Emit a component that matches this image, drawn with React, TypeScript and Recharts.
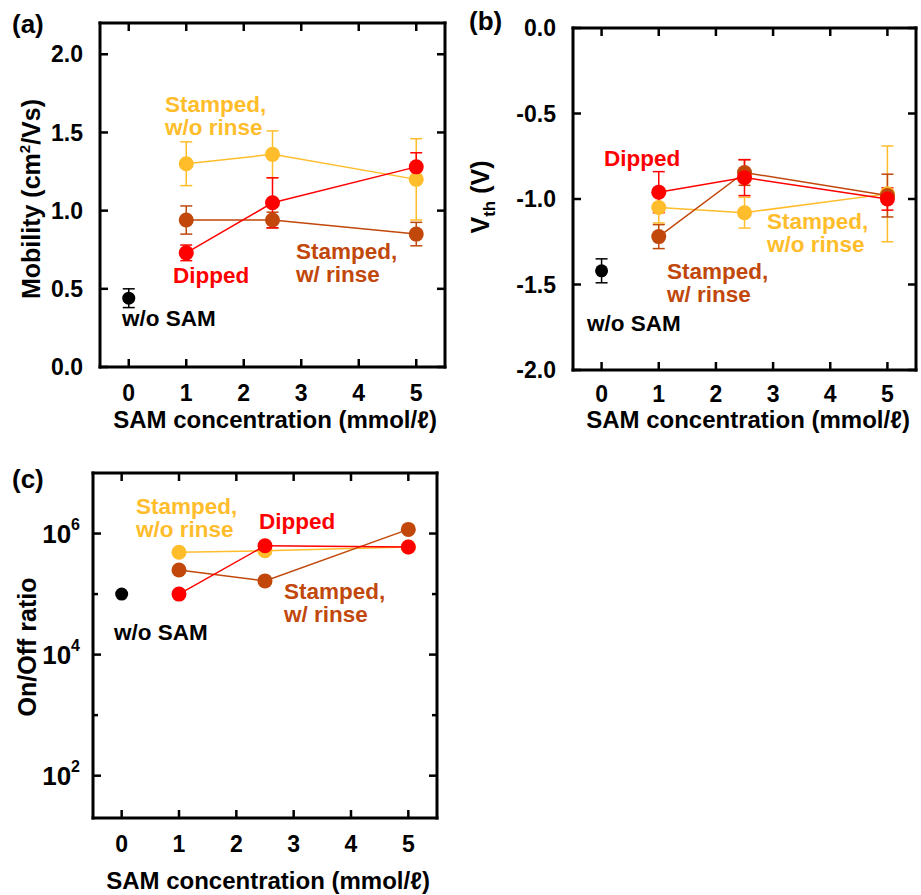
import React from 'react';
import { ScatterChart, Scatter, XAxis, YAxis, ErrorBar } from 'recharts';

// SAM concentrations (mmol/l)
const concentrations = [1, 2.5, 5];
const noSamConcentration = [0];

// (a) mobility (cm2/Vs)
const mobilityNoSam = [0.44];
const mobilityNoSamErr = [0.06];
const mobilityStampedNoRinse = [1.3, 1.36, 1.2];
const mobilityStampedNoRinseErr = [0.14, 0.15, 0.26];
const mobilityStampedRinse = [0.94, 0.94, 0.85];
const mobilityStampedRinseErr = [0.09, 0.05, 0.075];
const mobilityDipped = [0.73, 1.05, 1.28];
const mobilityDippedErr = [0.05, 0.16, 0.09];

// (b) threshold voltage (V)
const vthNoSam = [-1.42];
const vthNoSamErr = [0.07];
const vthStampedNoRinse = [-1.05, -1.08, -0.97];
const vthStampedNoRinseErr = [0.09, 0.09, 0.28];
const vthStampedRinse = [-1.22, -0.845, -0.98];
const vthStampedRinseErr = [0.07, 0.075, 0.125];
const vthDipped = [-0.96, -0.875, -1.0];
const vthDippedErr = [0.12, 0.105, 0.065];

// (c) on/off ratio
const ratioNoSam = [1e5];
const ratioStampedNoRinse = [4.9e5, 5.2e5, 6.0e5];
const ratioStampedRinse = [2.5e5, 1.65e5, 1.17e6];
const ratioDipped = [1.0e5, 6.3e5, 6.0e5];

const xTicks = [0, 1, 2, 3, 4, 5];
const mobilityTicks = [0, 0.5, 1, 1.5, 2];
const vthTicks = [-2, -1.5, -1, -0.5, 0];
const ratioTicks = [1e2, 1e3, 1e4, 1e5, 1e6];

const FONT = "'Liberation Sans', Arial, Helvetica, sans-serif";
const COLORS = {
  noSam: '#000000',
  stampedNoRinse: '#FFBD2B',
  stampedRinse: '#C1470B',
  dipped: '#FF0000',
};

const xDomain: [number, number] = [-0.5, 5.5];
const TICK_FONT = 23;
const TICK_LEN = 8;

type Pt = { x: number; y: number; err?: number };
type Side = 'bottom' | 'top' | 'left' | 'right';

function points(xs: number[], ys: number[], errs?: number[]): Pt[] {
  return xs.map((x, i) => ({ x, y: ys[i], err: errs ? errs[i] : undefined }));
}

const axisLine = { stroke: '#000', strokeWidth: 3, strokeLinecap: 'square' as const };

// inward tick mark plus optional label; the axis sits `margin` px from the label anchor
function frameTick(side: Side, margin: number, fmt?: (v: number) => string, power?: boolean) {
  return function Tick(p: any) {
    const { x, y, payload } = p;
    const v = payload.value as number;
    let len = TICK_LEN;
    let exp = 0;
    if (power) {
      exp = Math.round(Math.log10(v));
      if (exp % 2 !== 0) len = 5;
    }
    let c = { x1: x, y1: y, x2: x, y2: y };
    if (side === 'bottom') c = { x1: x, x2: x, y1: y - margin, y2: y - margin - len };
    else if (side === 'top') c = { x1: x, x2: x, y1: y + margin, y2: y + margin + len };
    else if (side === 'left') c = { x1: x + margin, x2: x + margin + len, y1: y, y2: y };
    else c = { x1: x - margin, x2: x - margin - len, y1: y, y2: y };

    let label = null;
    const font = { fill: '#000', fontWeight: 700, fontFamily: FONT };
    if (power && side === 'left' && exp % 2 === 0) {
      label = (
        <text x={x} y={y + 9.5} textAnchor="end" fontSize={26} {...font}>
          10
          <tspan dy={-13} fontSize={16}>
            {exp}
          </tspan>
        </text>
      );
    } else if (fmt && side === 'bottom') {
      label = (
        <text x={x} y={y + 16.5} textAnchor="middle" fontSize={TICK_FONT} {...font}>
          {fmt(v)}
        </text>
      );
    } else if (fmt && side === 'left') {
      label = (
        <text x={x} y={y + 8.2} textAnchor="end" fontSize={TICK_FONT} {...font}>
          {fmt(v)}
        </text>
      );
    }
    return (
      <g>
        <path d={`M${c.x1},${c.y1}L${c.x2},${c.y2}`} stroke="#000" strokeWidth={2.5} fill="none" />
        {label}
      </g>
    );
  };
}

const fmtInt = (v: number) => String(v);
const fmt1 = (v: number) => v.toFixed(1);

function frameAxes(o: {
  yDomain: [number, number];
  yTicks: number[];
  yWidth: number;
  xHeight: number;
  xMargin: number;
  log?: boolean;
}) {
  const xCommon = {
    type: 'number' as const,
    dataKey: 'x',
    domain: xDomain,
    ticks: xTicks,
    allowDataOverflow: true,
    interval: 0 as const,
    tickSize: 0,
    tickLine: false,
    axisLine,
  };
  const yCommon = {
    type: 'number' as const,
    dataKey: 'y',
    domain: o.yDomain,
    ticks: o.yTicks,
    allowDataOverflow: true,
    scale: o.log ? ('log' as const) : ('linear' as const),
    interval: 0 as const,
    tickSize: 0,
    tickLine: false,
    axisLine,
  };
  const yMargin = o.log ? 13 : 17;
  return [
    <XAxis key="xb" xAxisId="b" orientation="bottom" height={o.xHeight} tickMargin={o.xMargin} tick={frameTick('bottom', o.xMargin, fmtInt)} {...xCommon} />,
    <XAxis key="xt" xAxisId="t" orientation="top" height={1} tickMargin={0} tick={frameTick('top', 0)} {...xCommon} />,
    <YAxis
      key="yl"
      yAxisId="l"
      orientation="left"
      width={o.yWidth}
      tickMargin={yMargin}
      tick={frameTick('left', yMargin, o.log ? undefined : fmt1, o.log)}
      {...yCommon}
    />,
    <YAxis key="yr" yAxisId="r" orientation="right" width={1} tickMargin={0} tick={frameTick('right', 0, undefined, o.log)} {...yCommon} />,
  ];
}

// top and right axes only carry tick marks, but they need a bound series to get a scale
function mirrorSeries(data: Pt[]) {
  return (
    <Scatter
      key="mirror"
      data={data}
      xAxisId="t"
      yAxisId="r"
      fill="none"
      isAnimationActive={false}
      legendType="none"
      shape={() => <g />}
    />
  );
}

function series(data: Pt[], color: string, r: number, withLine: boolean, withErr: boolean, key: string) {
  return (
    <Scatter
      key={key}
      data={data}
      xAxisId="b"
      yAxisId="l"
      fill={color}
      line={withLine ? { stroke: color, strokeWidth: 1.5 } : false}
      lineType="joint"
      isAnimationActive={false}
      shape={(p: any) => <circle cx={p.cx} cy={p.cy} r={r} fill={color} />}
    >
      {withErr && (
        <ErrorBar dataKey="err" direction="y" width={6} stroke={color} strokeWidth={1.5} isAnimationActive={false} />
      )}
    </Scatter>
  );
}

function Note({ left, top, color, lines }: { left: number; top: number; color: string; lines: string[] }) {
  return (
    <div
      style={{
        position: 'absolute',
        left,
        top,
        color,
        fontFamily: FONT,
        fontWeight: 700,
        fontSize: 22.5,
        lineHeight: '23px',
        whiteSpace: 'nowrap',
      }}
    >
      {lines.map((l) => (
        <div key={l}>{l}</div>
      ))}
    </div>
  );
}

function XTitle({ cx, top }: { cx: number; top: number }) {
  return (
    <div
      style={{
        position: 'absolute',
        left: cx - 200,
        width: 400,
        top,
        textAlign: 'center',
        fontFamily: FONT,
        fontWeight: 700,
        fontSize: 24,
        lineHeight: '20px',
        whiteSpace: 'nowrap',
      }}
    >
      SAM concentration (mmol/ℓ)
    </div>
  );
}

function YTitle({ cx, cy, children }: { cx: number; cy: number; children: React.ReactNode }) {
  return (
    <div
      style={{
        position: 'absolute',
        left: cx,
        top: cy,
        transform: 'translate(-50%, -50%) rotate(-90deg)',
        fontFamily: FONT,
        fontWeight: 700,
        fontSize: 25,
        lineHeight: '25px',
        whiteSpace: 'nowrap',
      }}
    >
      {children}
    </div>
  );
}

function PanelLabel({ left, top, text }: { left: number; top: number; text: string }) {
  return (
    <div style={{ position: 'absolute', left, top, fontFamily: FONT, fontWeight: 700, fontSize: 26, lineHeight: '26px' }}>
      {text}
    </div>
  );
}

export default function App() {
  const mobA = points(concentrations, mobilityStampedNoRinse, mobilityStampedNoRinseErr);
  const vthA = points(concentrations, vthStampedNoRinse, vthStampedNoRinseErr);
  const ratioA = points(concentrations, ratioStampedNoRinse);
  return (
    <div style={{ position: 'absolute', left: 0, top: 0, width: 921, height: 895, background: '#fff' }}>
      {/* (a) mobility */}
      <div style={{ position: 'absolute', left: 0, top: 0 }}>
        <ScatterChart width={460} height={450} margin={{ top: 22, right: 14, bottom: 0, left: 0 }}>
          {frameAxes({ yDomain: [0, 2.2], yTicks: mobilityTicks, yWidth: 100, xHeight: 83, xMargin: 17 })}
          {mirrorSeries(mobA)}
          {series(mobA, COLORS.stampedNoRinse, 7.5, true, true, 's1')}
          {series(points(concentrations, mobilityStampedRinse, mobilityStampedRinseErr), COLORS.stampedRinse, 7.5, true, true, 's2')}
          {series(points(concentrations, mobilityDipped, mobilityDippedErr), COLORS.dipped, 7.5, true, true, 's3')}
          {series(points(noSamConcentration, mobilityNoSam, mobilityNoSamErr), COLORS.noSam, 6.5, false, true, 's4')}
        </ScatterChart>
      </div>
      <PanelLabel left={12} top={11} text="(a)" />
      <YTitle cx={33} cy={199}>
        Mobility (cm
        <span style={{ fontSize: 15, position: 'relative', top: -10 }}>2</span>
        /Vs)
      </YTitle>
      <XTitle cx={275} top={410} />
      <Note left={165} top={93} color={COLORS.stampedNoRinse} lines={['Stamped,', 'w/o rinse']} />
      <Note left={173} top={264} color={COLORS.dipped} lines={['Dipped']} />
      <Note left={296} top={240} color={COLORS.stampedRinse} lines={['Stamped,', 'w/ rinse']} />
      <Note left={122} top={307} color={COLORS.noSam} lines={['w/o SAM']} />

      {/* (b) threshold voltage */}
      <div style={{ position: 'absolute', left: 460, top: 0 }}>
        <ScatterChart width={461} height={450} margin={{ top: 27, right: 4, bottom: 0, left: 0 }}>
          {frameAxes({ yDomain: [-2, 0], yTicks: vthTicks, yWidth: 113, xHeight: 80, xMargin: 15 })}
          {mirrorSeries(vthA)}
          {series(vthA, COLORS.stampedNoRinse, 7.5, true, true, 's1')}
          {series(points(concentrations, vthStampedRinse, vthStampedRinseErr), COLORS.stampedRinse, 7.5, true, true, 's2')}
          {series(points(concentrations, vthDipped, vthDippedErr), COLORS.dipped, 7.5, true, true, 's3')}
          {series(points(noSamConcentration, vthNoSam, vthNoSamErr), COLORS.noSam, 6.5, false, true, 's4')}
        </ScatterChart>
      </div>
      <PanelLabel left={469} top={8} text="(b)" />
      <YTitle cx={482} cy={197}>
        V<span style={{ fontSize: 17, position: 'relative', top: 6 }}>th</span> (V)
      </YTitle>
      <XTitle cx={748} top={410} />
      <Note left={604} top={147} color={COLORS.dipped} lines={['Dipped']} />
      <Note left={767} top={210} color={COLORS.stampedNoRinse} lines={['Stamped,', 'w/o rinse']} />
      <Note left={667} top={260} color={COLORS.stampedRinse} lines={['Stamped,', 'w/ rinse']} />
      <Note left={587} top={312} color={COLORS.noSam} lines={['w/o SAM']} />

      {/* (c) on/off ratio */}
      <div style={{ position: 'absolute', left: 0, top: 450 }}>
        <ScatterChart width={460} height={445} margin={{ top: 22, right: 22, bottom: 0, left: 0 }}>
          {frameAxes({ yDomain: [20, 1e7], yTicks: ratioTicks, yWidth: 93, xHeight: 77, xMargin: 17, log: true })}
          {mirrorSeries(ratioA)}
          {series(ratioA, COLORS.stampedNoRinse, 7.5, true, false, 's1')}
          {series(points(concentrations, ratioStampedRinse), COLORS.stampedRinse, 7.5, true, false, 's2')}
          {series(points(concentrations, ratioDipped), COLORS.dipped, 7.5, true, false, 's3')}
          {series(points(noSamConcentration, ratioNoSam), COLORS.noSam, 6.5, false, false, 's4')}
        </ScatterChart>
      </div>
      <PanelLabel left={12} top={466} text="(c)" />
      <YTitle cx={27} cy={647}>
        On/Off ratio
      </YTitle>
      <XTitle cx={268} top={871} />
      <Note left={136} top={495} color={COLORS.stampedNoRinse} lines={['Stamped,', 'w/o rinse']} />
      <Note left={259} top={510} color={COLORS.dipped} lines={['Dipped']} />
      <Note left={284} top={580} color={COLORS.stampedRinse} lines={['Stamped,', 'w/ rinse']} />
      <Note left={114} top={621} color={COLORS.noSam} lines={['w/o SAM']} />
    </div>
  );
}
